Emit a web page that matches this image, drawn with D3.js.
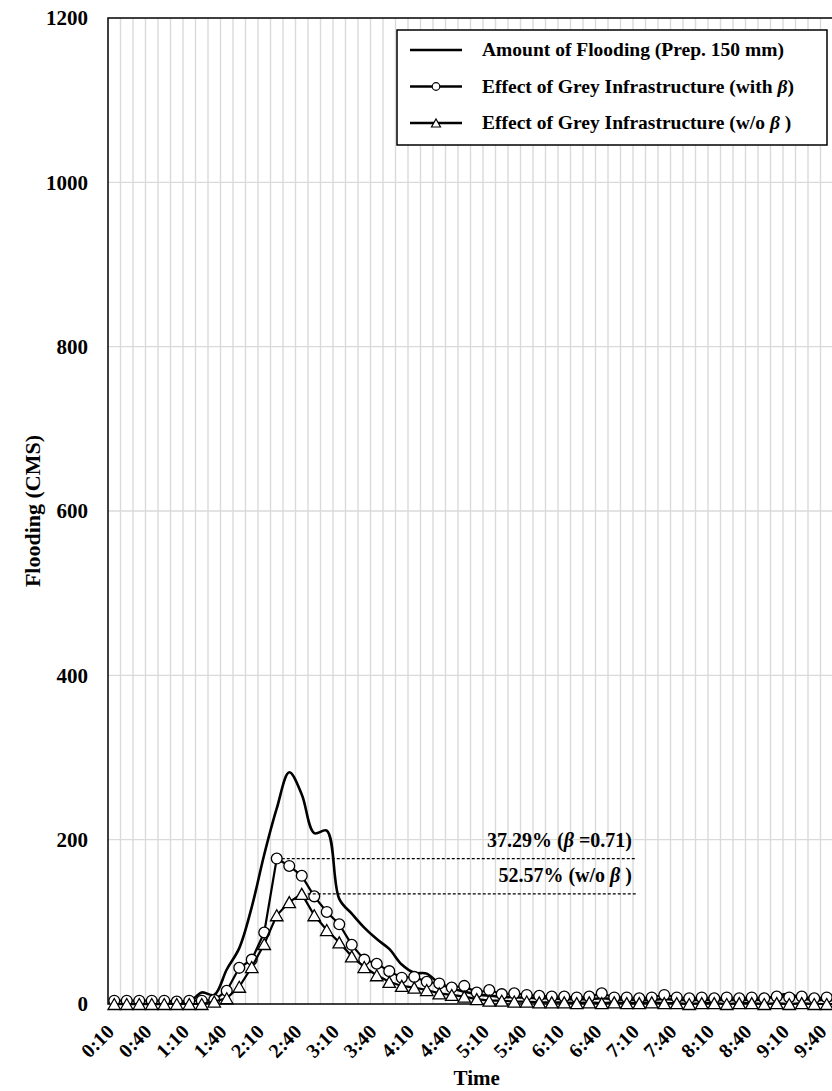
<!DOCTYPE html>
<html lang="en">

<head>
  <meta charset="UTF-8" />
  <title>Flooding</title>
  <script src="https://cdn.jsdelivr.net/npm/d3@7/dist/d3.min.js"></script>
  <style>
    body { margin: 0; background: #fff; }
    svg { display: block; background: #fff; }
    text { font-family: "Liberation Serif", "Times New Roman", serif; font-weight: bold; fill: #000; }
  </style>
</head>

<body>
  <svg id="svg"></svg>
</body>

<script>
  // 10-minute steps, 0:10 .. 9:50
  const times = [
    "0:10", "0:20", "0:30", "0:40", "0:50", "1:00", "1:10", "1:20", "1:30", "1:40",
    "1:50", "2:00", "2:10", "2:20", "2:30", "2:40", "2:50", "3:00", "3:10", "3:20",
    "3:30", "3:40", "3:50", "4:00", "4:10", "4:20", "4:30", "4:40", "4:50", "5:00",
    "5:10", "5:20", "5:30", "5:40", "5:50", "6:00", "6:10", "6:20", "6:30", "6:40",
    "6:50", "7:00", "7:10", "7:20", "7:30", "7:40", "7:50", "8:00", "8:10", "8:20",
    "8:30", "8:40", "8:50", "9:00", "9:10", "9:20", "9:30", "9:40", "9:50"
  ];
  const xTickLabels = ["0:10", "0:40", "1:10", "1:40", "2:10", "2:40", "3:10", "3:40", "4:10", "4:40",
    "5:10", "5:40", "6:10", "6:40", "7:10", "7:40", "8:10", "8:40", "9:10", "9:40"];
  const yTicks = [0, 200, 400, 600, 800, 1000, 1200];

  // Amount of Flooding (Prep. 150 mm)
  const flooding = [
    0, 0, 0, 0, 0, 1, 2, 14, 11, 42,
    68, 118, 182, 238, 282, 255, 208, 211, 128, 110,
    93, 79, 67, 48, 38, 37, 25, 19, 15, 12,
    10, 9, 8, 8, 7, 7, 6, 6, 6, 7,
    6, 5, 5, 5, 6, 5, 5, 5, 5, 5,
    5, 5, 6, 10, 12, 7, 5, 5, 5
  ];
  // Effect of Grey Infrastructure (with beta)
  const withBeta = [
    4, 4, 4, 4, 4, 3, 4, 4, 5, 16,
    44, 54, 87, 177, 168, 156, 131, 112, 97, 72,
    54, 49, 40, 32, 33, 27, 25, 20, 22, 14,
    17, 12, 13, 11, 10, 9, 9, 8, 9, 13,
    8, 8, 7, 8, 11, 8, 7, 8, 7, 8,
    7, 8, 7, 9, 8, 9, 7, 8, 7
  ];
  // Effect of Grey Infrastructure (w/o beta)
  const withoutBeta = [
    0, 0, 0, 0, 0, 0, 0, 0, 3, 7,
    21, 45, 73, 108, 124, 134, 108, 90, 75, 58,
    45, 35, 27, 22, 20, 17, 13, 11, 9, 6,
    4, 4, 3, 3, 2, 2, 2, 1, 2, 1,
    2, 1, 1, 2, 1, 1, 0, 1, 1, 0,
    1, 1, 0, 1, 0, 1, 0, 0, 0
  ];

  const width = 832;
  const height = 1091;
  const margin = { top: 18, left: 108, bottom: 87 };
  const step = 12.5;
  const plotRight = margin.left + step * times.length;
  const plotBottom = height - margin.bottom;

  const svg = d3.select("#svg").attr("width", width).attr("height", height);

  const xScale = d3.scaleBand().domain(times).range([margin.left, plotRight]).padding(0);
  const xc = t => xScale(t) + xScale.bandwidth() / 2;
  const yScale = d3.scaleLinear().domain([0, 1200]).range([plotBottom, margin.top]);

  // grid
  const grid = svg.append("g");
  grid.selectAll("line.v")
    .data(times.slice(1))
    .join("line")
    .attr("x1", d => xScale(d)).attr("x2", d => xScale(d))
    .attr("y1", margin.top).attr("y2", plotBottom)
    .attr("stroke", "#dadada").attr("stroke-width", 1.4);
  grid.selectAll("line.h")
    .data(yTicks.slice(1, -1))
    .join("line")
    .attr("x1", margin.left).attr("x2", plotRight)
    .attr("y1", d => yScale(d)).attr("y2", d => yScale(d))
    .attr("stroke", "#dadada").attr("stroke-width", 1.4);

  // frame
  svg.append("rect")
    .attr("x", margin.left).attr("y", margin.top)
    .attr("width", plotRight - margin.left).attr("height", plotBottom - margin.top)
    .attr("fill", "none").attr("stroke", "#000").attr("stroke-width", 1.5);

  // y axis
  const yAxis = d3.axisLeft(yScale).tickValues(yTicks).tickFormat(d3.format("d")).tickSize(0).tickPadding(20);
  const yAxisGroup = svg.append("g").attr("transform", `translate(${margin.left},0)`).call(yAxis);
  yAxisGroup.select(".domain").remove();
  yAxisGroup.selectAll("text")
    .attr("font-size", 21)
    .attr("font-family", null)
    .attr("fill", null);
  yAxisGroup.attr("font-family", null).attr("font-size", null);

  svg.append("text")
    .attr("transform", `translate(40, ${(margin.top + plotBottom) / 2}) rotate(-90)`)
    .attr("text-anchor", "middle")
    .attr("font-size", 22)
    .text("Flooding (CMS)");

  // x labels
  svg.append("g").selectAll("text")
    .data(xTickLabels)
    .join("text")
    .attr("transform", d => `translate(${xc(d) + 1}, ${plotBottom + 29}) rotate(-45)`)
    .attr("text-anchor", "end")
    .attr("font-size", 20)
    .text(d => d);

  svg.append("text")
    .attr("x", (margin.left + plotRight) / 2)
    .attr("y", height - 6)
    .attr("text-anchor", "middle")
    .attr("font-size", 21)
    .text("Time");

  // series
  const floodLine = d3.line()
    .x((d, i) => xc(times[i]))
    .y(d => yScale(d))
    .curve(d3.curveCatmullRom.alpha(0.5));
  const straightLine = d3.line()
    .x((d, i) => xc(times[i]))
    .y(d => yScale(d));

  svg.append("path")
    .attr("d", floodLine(flooding))
    .attr("fill", "none").attr("stroke", "#000").attr("stroke-width", 2.6);

  const triPath = (w, h) => `M0,${-h / 2}L${w / 2},${h / 2}L${-w / 2},${h / 2}Z`;

  svg.append("path")
    .attr("d", straightLine(withBeta))
    .attr("fill", "none").attr("stroke", "#000").attr("stroke-width", 2.2);
  svg.append("g").selectAll("circle")
    .data(withBeta)
    .join("circle")
    .attr("cx", (d, i) => xc(times[i]))
    .attr("cy", d => yScale(d))
    .attr("r", 5.4)
    .attr("fill", "#fff").attr("stroke", "#000").attr("stroke-width", 1.3);

  svg.append("path")
    .attr("d", straightLine(withoutBeta))
    .attr("fill", "none").attr("stroke", "#000").attr("stroke-width", 2.2);
  svg.append("g").selectAll("path")
    .data(withoutBeta)
    .join("path")
    .attr("transform", (d, i) => `translate(${xc(times[i])}, ${yScale(d)})`)
    .attr("d", triPath(12.5, 11))
    .attr("fill", "#fff").attr("stroke", "#000").attr("stroke-width", 1.3);

  // reduction annotations
  const annoEnd = 636;
  const peakB = d3.max(withBeta);
  const peakW = d3.max(withoutBeta);
  const annos = [
    { v: peakB, x0: xc(times[withBeta.indexOf(peakB)]) + 5, label: ["37.29% (", " =0.71)"] },
    { v: peakW, x0: xc(times[withoutBeta.indexOf(peakW)]) + 6, label: ["52.57% (w/o ", " )"] }
  ];
  annos.forEach(a => {
    svg.append("line")
      .attr("x1", a.x0).attr("x2", annoEnd)
      .attr("y1", yScale(a.v)).attr("y2", yScale(a.v))
      .attr("stroke", "#000").attr("stroke-width", 1.2)
      .attr("stroke-dasharray", "3,2");
    const t = svg.append("text")
      .attr("x", annoEnd - 4)
      .attr("y", yScale(a.v) - 12)
      .attr("text-anchor", "end")
      .attr("font-size", 20);
    t.append("tspan").text(a.label[0]);
    t.append("tspan").attr("font-style", "italic").text("\u03b2");
    t.append("tspan").text(a.label[1]);
  });

  // legend
  const legend = svg.append("g");
  legend.append("rect")
    .attr("x", 397).attr("y", 30).attr("width", 430).attr("height", 115)
    .attr("fill", "#fff").attr("stroke", "#000").attr("stroke-width", 1.5);
  const legendItems = [
    { label: ["Amount of Flooding (Prep. 150 mm)"], marker: null },
    { label: ["Effect of Grey Infrastructure (with ", ")"], marker: "circle" },
    { label: ["Effect of Grey Infrastructure (w/o ", " )"], marker: "tri" }
  ];
  legendItems.forEach((it, i) => {
    const y = 50 + i * 36.5;
    legend.append("line")
      .attr("x1", 410).attr("x2", 462).attr("y1", y).attr("y2", y)
      .attr("stroke", "#000").attr("stroke-width", 2.4);
    if (it.marker === "circle") {
      legend.append("circle").attr("cx", 436).attr("cy", y).attr("r", 3.8)
        .attr("fill", "#fff").attr("stroke", "#000").attr("stroke-width", 1.2);
    } else if (it.marker === "tri") {
      legend.append("path").attr("transform", `translate(436, ${y})`).attr("d", triPath(9, 8))
        .attr("fill", "#fff").attr("stroke", "#000").attr("stroke-width", 1.2);
    }
    const t = legend.append("text").attr("x", 482).attr("y", y + 6).attr("font-size", 19.5);
    t.append("tspan").text(it.label[0]);
    if (it.label.length > 1) {
      t.append("tspan").attr("font-style", "italic").text("\u03b2");
      t.append("tspan").text(it.label[1]);
    }
  });
</script>

</html>
